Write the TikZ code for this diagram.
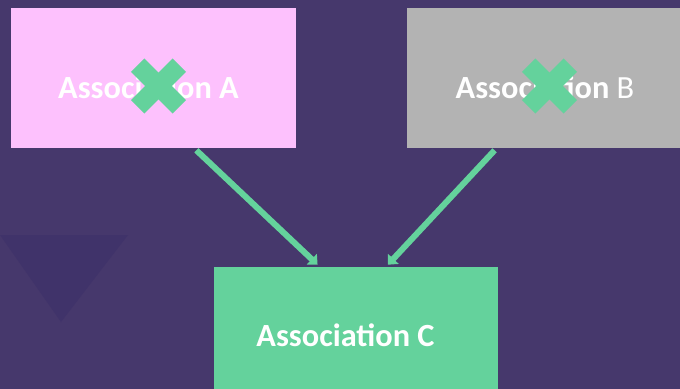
\documentclass[tikz,border=0pt]{standalone}
\usepackage{fontspec}
\setmainfont{Carlito}
\usetikzlibrary{arrows.meta,calc}

\definecolor{bgpurple}{HTML}{46386C}
\definecolor{bgdark}{HTML}{40336A}
\definecolor{assocpink}{HTML}{FDC1FD}
\definecolor{assocgray}{HTML}{B3B3B3}
\definecolor{assocgreen}{HTML}{64D29C}

\tikzset{
  assocbox/.style={draw=none, minimum height=3.5cm, inner sep=0pt},
  assoctext/.style={text=white, inner sep=0pt, font=\fontsize{23}{27}\selectfont},
  crossline/.style={assocgreen, line width=0.475cm},
  linkarrow/.style={assocgreen, line width=0.15cm, -{Triangle[length=0.2cm,width=0.36cm]}}
}

\begin{document}
\begin{tikzpicture}[x=0.025cm, y=-0.025cm]

  \clip (0,0) rectangle (680,389);
  \fill[bgpurple] (0,0) rectangle (680,389);
  \fill[bgdark] (0,235) -- (128,235) -- (61,322) -- cycle;

  \node[assocbox, fill=assocpink, minimum width=7.125cm] (assocA) at (153.5,78) {};
  \node[assocbox, fill=assocgray, minimum width=7.075cm] (assocB) at (548.5,78) {};
  \node[assocbox, fill=assocgreen, minimum width=7.1cm, minimum height=3.4cm] (assocC) at (356,335) {};

  \node[assoctext] (txtA) at (148.5,87.5) {\bfseries Association A};
  \node[assoctext] (txtB) at (545,87.5) {{\bfseries Association} B};
  \node[assoctext] (txtC) at (345.5,335) {\bfseries Association C};

  \coordinate (crossA) at (158.5,86);
  \coordinate (crossB) at (549.5,86);
  \foreach \c in {crossA, crossB} {
    \draw[crossline] ($(\c)+(-20.8,-20.8)$) -- ($(\c)+(20.8,20.8)$);
    \draw[crossline] ($(\c)+(-20.8,20.8)$) -- ($(\c)+(20.8,-20.8)$);
  }

  \coordinate (startA) at ($(assocA.south west)!0.65!(assocA.south east)+(0,2)$);
  \coordinate (startB) at ($(assocB.south west)!0.31!(assocB.south east)+(0,2)$);
  \draw[linkarrow] (startA) -- ($(assocC.north west)!0.365!(assocC.north east)+(0,-2)$);
  \draw[linkarrow] (startB) -- ($(assocC.north west)!0.612!(assocC.north east)+(0,-2)$);

\end{tikzpicture}
\end{document}
